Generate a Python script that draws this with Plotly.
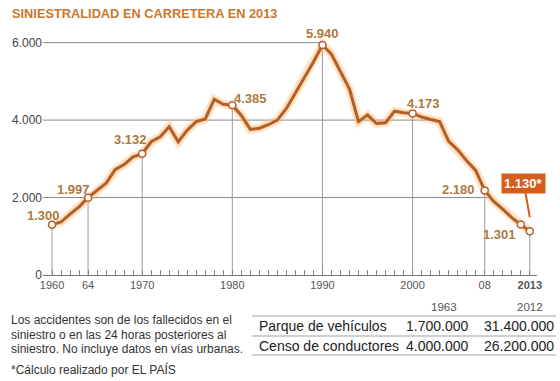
import plotly.graph_objects as go

# ---------------- data ----------------
years = list(range(1960, 2014))
deaths = [
    1300, 1368, 1570, 1760, 1997, 2190, 2370, 2720, 2850, 3050,   # 1960-1969
    3132, 3440, 3570, 3830, 3440, 3740, 3960, 4030, 4535, 4410,   # 1970-1979
    4385, 4120, 3760, 3790, 3880, 4000, 4300, 4700, 5100, 5500,   # 1980-1989
    5940, 5700, 5250, 4800, 3960, 4130, 3910, 3930, 4230, 4190,   # 1990-1999
    4173, 4080, 4015, 3960, 3450, 3230, 2950, 2700, 2180, 1900,   # 2000-2009
    1700, 1480, 1301, 1130,                                       # 2010-2013
]
marked_years = [1960, 1964, 1970, 1980, 1990, 2000, 2008, 2012]
guide_years = [1960, 1964, 1970, 1980, 1990, 2000, 2008, 2013]
highlight_year = 2013
x_tick_labels = {1960: "1960", 1964: "64", 1970: "1970", 1980: "1980",
                 1990: "1990", 2000: "2000", 2008: "08", 2013: "<b>2013</b>"}
y_ticks = [0, 2000, 4000, 6000]
y_tick_labels = ["0", "2.000", "4.000", "6.000"]

title = "SINIESTRALIDAD EN CARRETERA EN 2013"
note_lines = ["Los accidentes son de los fallecidos en el",
              "siniestro o en las 24 horas posteriores al",
              "siniestro. No incluye datos en vías urbanas."]
footnote = "*Cálculo realizado por EL PAÍS"
table_years = ["1963", "2012"]
table_rows = ["Parque de vehículos", "Censo de conductores"]
table_1963 = ["1.700.000", "4.000.000"]
table_2012 = ["31.400.000", "26.200.000"]

# ---------------- style ----------------
W, H = 560, 381
ML, MR, MT, MB = 40, 23, 31, 106
LINE = "#b0602a"
GLOW = "rgba(255,175,100,0.30)"
LABEL = "#ad7a3e"
TITLE_C = "#c9782e"
GRID = "#8a8a8a"
BOX = "#d65c1c"
FONT = "Liberation Sans, Arial, sans-serif"
label_offsets = {1960: (-9, 9), 1964: (-15, 8), 1970: (-12, 14), 1980: (18, 7),
                 1990: (0, 11), 2000: (11, 10), 2008: (-26, 1), 2012: (-21, -10)}

pw, ph = W - ML - MR, H - MT - MB
y0px = H - MB


def px_x(px):
    return (px - ML) / pw


def px_y(py):
    return (y0px - py) / ph


def fmt(v):
    return f"{v:,}".replace(",", ".")


val = dict(zip(years, deaths))

fig = go.Figure()

# glow + line
fig.add_trace(go.Scatter(x=years, y=deaths, mode="lines",
                         line=dict(color=GLOW, width=9), hoverinfo="skip"))
fig.add_trace(go.Scatter(x=years, y=deaths, mode="lines",
                         line=dict(color="rgba(255,200,140,0.45)", width=5.5), hoverinfo="skip"))
fig.add_trace(go.Scatter(x=years, y=deaths, mode="lines",
                         line=dict(color=LINE, width=3), hoverinfo="skip"))
mk = marked_years + [highlight_year]
fig.add_trace(go.Scatter(x=mk, y=[val[y] for y in mk], mode="markers",
                         marker=dict(size=7, color="white",
                                     line=dict(color=LINE, width=1.5)),
                         hoverinfo="skip"))

shapes = []
# horizontal guide lines end where the curve last crosses them
for lvl in y_ticks[1:]:
    end = None
    for i in range(len(years) - 1):
        a, b = deaths[i], deaths[i + 1]
        if a >= lvl > b:
            end = years[i] + (a - lvl) / (a - b)
    if end is None:
        end = years[deaths.index(max(deaths))]
    shapes.append(dict(type="line", xref="x", yref="y", x0=1959, x1=end,
                       y0=lvl, y1=lvl, line=dict(color=GRID, width=1), layer="below"))
# vertical guides
for yr in guide_years:
    shapes.append(dict(type="line", xref="x", yref="y", x0=yr, x1=yr,
                       y0=0, y1=val[yr], line=dict(color="#9a9a9a", width=1), layer="below"))
# table rules
for py in [316, 336, 355]:
    shapes.append(dict(type="line", xref="paper", yref="paper",
                       x0=px_x(250), x1=px_x(556), y0=px_y(py), y1=px_y(py),
                       line=dict(color="#a0a0a0", width=1.2)))

ann = []
for yr in marked_years:
    dx, dy = label_offsets[yr]
    ann.append(dict(x=yr, y=val[yr], xref="x", yref="y", text=f"<b>{fmt(val[yr])}</b>",
                    showarrow=False, xshift=dx, yshift=dy,
                    font=dict(family=FONT, size=13, color=LABEL)))
# highlighted 2013 value in orange box
ann.append(dict(x=highlight_year, y=val[highlight_year], xref="x", yref="y",
                text=f"<b>{fmt(val[highlight_year])}*</b>", showarrow=True,
                arrowhead=0, arrowwidth=2, arrowcolor=BOX, ax=-6, ay=-34,
                yshift=14, bgcolor=BOX, borderpad=2,
                font=dict(family=FONT, size=13, color="white")))

# title
ann.append(dict(x=px_x(7), y=px_y(14), xref="paper", yref="paper", text=f"<b>{title}</b>",
                showarrow=False, xanchor="left", yanchor="middle",
                font=dict(family=FONT, size=12.8, color=TITLE_C)))
# notes
for i, line in enumerate(note_lines):
    ann.append(dict(x=px_x(6), y=px_y(320 + i * 14.6), xref="paper", yref="paper", text=line,
                    showarrow=False, xanchor="left", yanchor="middle",
                    font=dict(family=FONT, size=12, color="#333")))
ann.append(dict(x=px_x(6), y=px_y(369), xref="paper", yref="paper", text=footnote,
                showarrow=False, xanchor="left", yanchor="middle",
                font=dict(family=FONT, size=12, color="#333")))
# table
for tx, t in zip([443, 530], table_years):
    ann.append(dict(x=px_x(tx), y=px_y(307), xref="paper", yref="paper", text=t,
                    showarrow=False, xanchor="center", yanchor="middle",
                    font=dict(family=FONT, size=11.5, color="#555")))
for i, (r, a, b) in enumerate(zip(table_rows, table_1963, table_2012)):
    py = 326 + i * 19.5
    ann.append(dict(x=px_x(255), y=px_y(py), xref="paper", yref="paper", text=r,
                    showarrow=False, xanchor="left", yanchor="middle",
                    font=dict(family=FONT, size=14, color="#222")))
    ann.append(dict(x=px_x(470), y=px_y(py), xref="paper", yref="paper", text=a,
                    showarrow=False, xanchor="right", yanchor="middle",
                    font=dict(family=FONT, size=14, color="#222")))
    ann.append(dict(x=px_x(556), y=px_y(py), xref="paper", yref="paper", text=b,
                    showarrow=False, xanchor="right", yanchor="middle",
                    font=dict(family=FONT, size=14, color="#222")))

fig.update_layout(
    width=W, height=H, margin=dict(l=ML, r=MR, t=MT, b=MB, pad=0),
    paper_bgcolor="white", plot_bgcolor="white", showlegend=False,
    shapes=shapes, annotations=ann,
    xaxis=dict(range=[1959, 2013.8], showgrid=False, zeroline=False,
               showline=True, linecolor="#777", linewidth=1,
               ticks="inside", ticklen=5, tickcolor="#888", tickwidth=1,
               tickvals=years, ticktext=[x_tick_labels.get(y, "") for y in years],
               tickfont=dict(family=FONT, size=11, color="#555")),
    yaxis=dict(range=[0, 6300], showgrid=False, zeroline=False, showline=False,
               tickvals=y_ticks, ticktext=y_tick_labels, ticks="",
               tickfont=dict(family=FONT, size=12, color="#444")),
)

fig.write_html("out.html", config={"displayModeBar": False},
               post_script="document.body.style.margin='0';document.body.style.overflow='hidden';")
